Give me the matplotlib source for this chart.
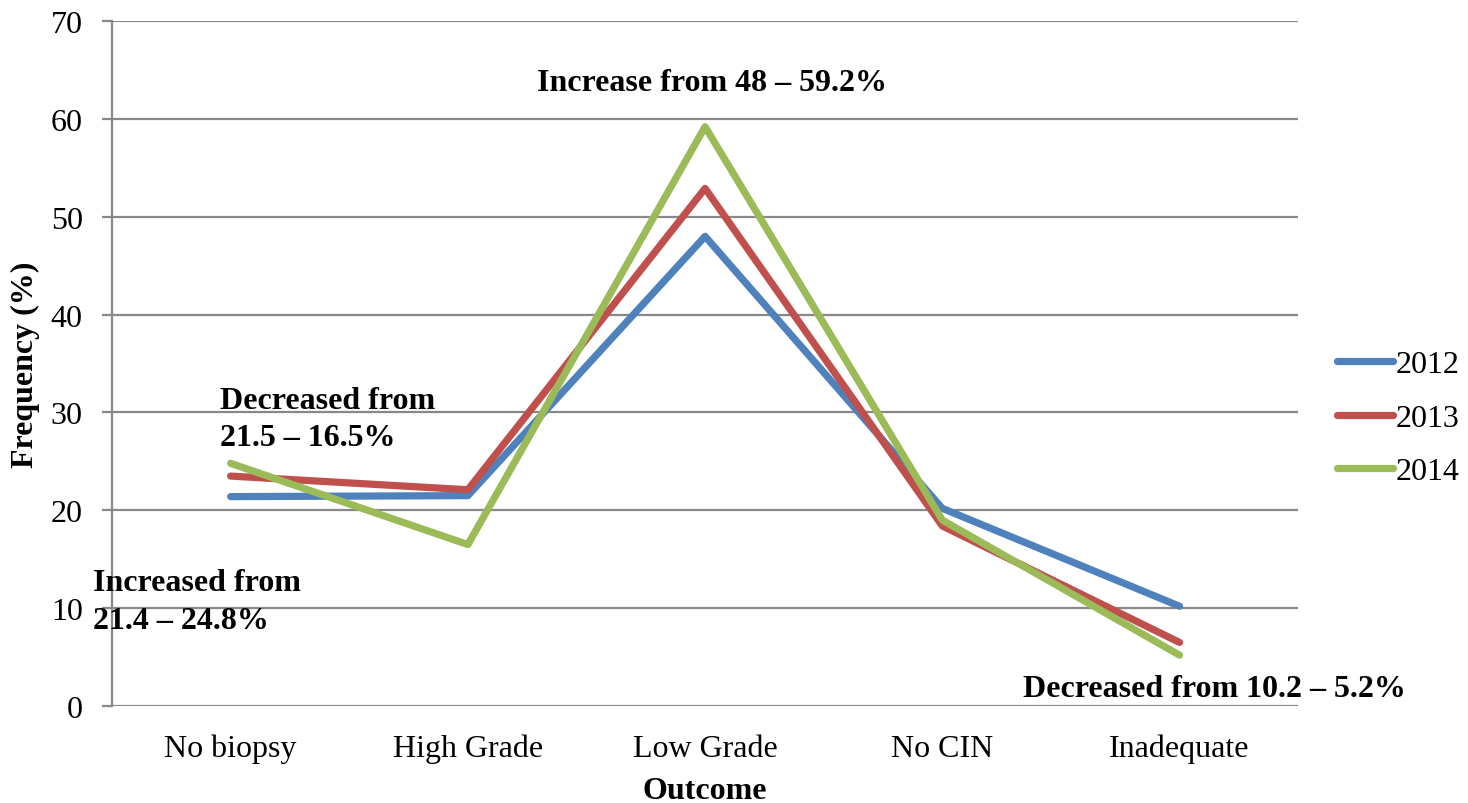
import matplotlib
matplotlib.use("Agg")
import matplotlib.pyplot as plt

plt.rcParams['font.family'] = ['Liberation Serif', 'DejaVu Serif']

categories = ['No biopsy', 'High Grade', 'Low Grade', 'No CIN', 'Inadequate']
y2012 = [21.4, 21.5, 48.0, 20.2, 10.2]
y2013 = [23.5, 22.1, 52.9, 18.4, 6.5]
y2014 = [24.8, 16.5, 59.2, 19.0, 5.2]
yticks = [0, 10, 20, 30, 40, 50, 60, 70]

fs = 23

fig = plt.figure(figsize=(14.68, 8.04), dpi=100)
ax = fig.add_axes([0.0763, 0.1206, 0.808, 0.852])

x = list(range(len(categories)))
ax.plot(x, y2012, color='#4F81BD', lw=5.2, solid_capstyle='round', label='2012', zorder=3)
ax.plot(x, y2013, color='#C0504D', lw=5.2, solid_capstyle='round', label='2013', zorder=3)
ax.plot(x, y2014, color='#9BBB59', lw=5.2, solid_capstyle='round', label='2014', zorder=3)

ax.set_xlim(-0.5, 4.5)
ax.set_ylim(0, 70)
ax.set_yticks(yticks)
ax.set_xticks(x)
ax.set_xticklabels(categories)
ax.grid(axis='y', color='#888888', lw=1.6)
ax.set_axisbelow(True)
for s in ['top', 'right', 'bottom']:
    ax.spines[s].set_visible(False)
ax.spines['left'].set_color('#888888')
ax.spines['left'].set_linewidth(1.6)
ax.tick_params(axis='y', length=7, width=1.6, color='#888888', labelsize=fs, pad=14)
ax.tick_params(axis='x', length=0, labelsize=fs, pad=20)

ax.set_xlabel('Outcome', fontsize=fs, fontweight='bold', labelpad=9)
ax.set_ylabel('Frequency (%)', fontsize=fs, fontweight='bold', labelpad=8)

bold = dict(fontsize=fs, fontweight='bold', zorder=4)
ax.text(2.03, 63.7, 'Increase from 48 \u2013 59.2%', ha='center', va='center', **bold)
ax.text(-0.045, 29.3, 'Decreased from\n21.5 \u2013 16.5%', ha='left', va='center',
        linespacing=1.38, **bold)
ax.text(-0.58, 10.7, 'Increased from\n21.4 \u2013 24.8%', ha='left', va='center',
        linespacing=1.38, clip_on=False, **bold)
ax.text(3.34, 1.8, 'Decreased from 10.2 \u2013 5.2%', ha='left', va='center',
        clip_on=False, **bold)

ax.legend(loc='center left', bbox_to_anchor=(1337 / 1468, (804 - 419) / 804),
          bbox_transform=fig.transFigure, frameon=False, borderpad=0, borderaxespad=0,
          fontsize=fs, handlelength=1.75, handletextpad=0.1, labelspacing=0.75)

fig.savefig('out.png', dpi=100)
